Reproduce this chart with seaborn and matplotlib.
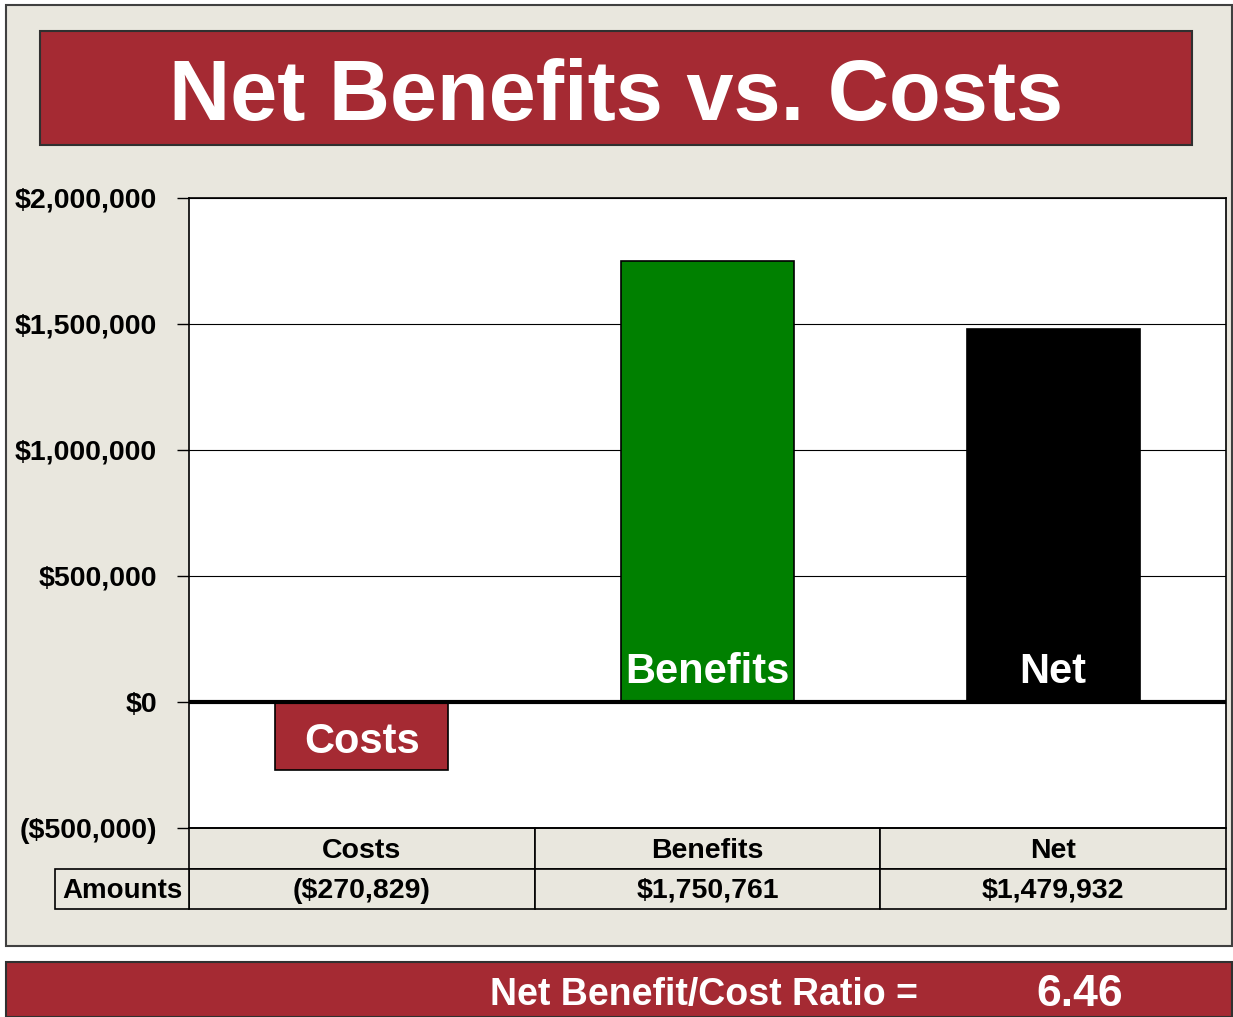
import matplotlib
matplotlib.use("Agg")
import matplotlib.pyplot as plt
import matplotlib.transforms as mtransforms
from matplotlib.patches import Rectangle
import seaborn as sns

# ---- data ----
categories = ["Costs", "Benefits", "Net"]
values = [-270829, 1750761, 1479932]
bar_colors = ["#A52A33", "#008000", "#000000"]
row_label = "Amounts"
y_ticks = [-500000, 0, 500000, 1000000, 1500000, 2000000]
title = "Net Benefits vs. Costs"
ratio_label = "Net Benefit/Cost Ratio ="


def money(v):
    s = "${:,.0f}".format(abs(v))
    return "({})".format(s) if v < 0 else s


ratio = values[1] / abs(values[0])

sns.set_style("white")
plt.rcParams["font.family"] = ["Liberation Sans", "DejaVu Sans"]
plt.rcParams["font.weight"] = "bold"
plt.rcParams["text.color"] = "black"

W, H = 1233, 1017
RED = "#A52A33"
BEIGE = "#E9E7DE"

fig = plt.figure(figsize=(W / 100, H / 100), dpi=100)
fig.patch.set_facecolor("white")

# outer beige panel
fig.patches.append(Rectangle((6 / W, 1 - 946 / H), 1226 / W, 941 / H,
                             transform=fig.transFigure, fc=BEIGE, ec="#404040",
                             lw=1.5, zorder=-2))
# title box
fig.patches.append(Rectangle((40 / W, 1 - 145 / H), 1152 / W, 114 / H,
                             transform=fig.transFigure, fc=RED, ec="#303030",
                             lw=1.5, zorder=-1))
fig.text(616 / W, 1 - 120 / H, title, color="white", fontsize=61,
         fontweight="bold", ha="center", va="baseline", zorder=3)
# bottom ratio bar
fig.patches.append(Rectangle((6 / W, 0), 1226 / W, 55 / H,
                             transform=fig.transFigure, fc=RED, ec="#303030",
                             lw=1.5, zorder=-1))
fig.text(918 / W, 1 - 1005 / H, ratio_label, color="white", fontsize=27,
         fontweight="bold", ha="right", va="baseline", zorder=3)
fig.text(1080 / W, 1 - 1006 / H, "{:.2f}".format(ratio), color="white",
         fontsize=32, fontweight="bold", ha="center", va="baseline", zorder=3)

# main axes
ax = fig.add_axes([189 / W, 1 - 828 / H, 1037 / W, 630 / H])
ax.set_zorder(2)
ax.set_facecolor("white")
sns.barplot(x=categories, y=values, hue=categories, palette=bar_colors,
            width=0.5, edgecolor="black", linewidth=1.2, saturation=1,
            legend=False, ax=ax, zorder=3)
ax.set_xlim(-0.5, 2.5)
ax.set_ylim(y_ticks[0], y_ticks[-1])
ax.set_yticks(y_ticks)
ax.set_yticklabels([money(v) for v in y_ticks], fontsize=20.5,
                   fontweight="bold", color="black")
ax.set_xticks([])
ax.set_xlabel("")
ax.set_ylabel("")
ax.yaxis.grid(True, color="black", lw=0.8)
ax.set_axisbelow(True)
ax.axhline(0, color="black", lw=3, zorder=4)
ax.tick_params(axis="y", left=True, length=9, width=1, direction="out",
               pad=14, colors="black")
for sp in ax.spines.values():
    sp.set_visible(True)
    sp.set_color("black")
    sp.set_linewidth(1.2)

# bar labels
for i, (c, v) in enumerate(zip(categories, values)):
    if v < 0:
        ax.annotate(c, (i, 0), xytext=(0, -37), textcoords="offset points",
                    ha="center", va="baseline", color="white", fontsize=30,
                    fontweight="bold", zorder=5)
    else:
        ax.annotate(c, (i, 0), xytext=(0, 13.5), textcoords="offset points",
                    ha="center", va="baseline", color="white", fontsize=30,
                    fontweight="bold", zorder=5)

# data table under the axes
trans = mtransforms.blended_transform_factory(ax.transData, ax.transAxes)
h1 = 41 / 630
h2 = 40 / 630
ty1 = -30 / 630   # baseline of header text
ty2 = -70 / 630   # baseline of amount text
for i, (c, v) in enumerate(zip(categories, values)):
    ax.add_patch(Rectangle((i - 0.5, -h1), 1, h1, transform=trans, fc=BEIGE,
                           ec="black", lw=1.2, clip_on=False))
    ax.add_patch(Rectangle((i - 0.5, -h1 - h2), 1, h2, transform=trans,
                           fc=BEIGE, ec="black", lw=1.2, clip_on=False))
    ax.text(i, ty1, c, transform=trans, ha="center", va="baseline",
            fontsize=20.5, fontweight="bold", color="black", clip_on=False)
    ax.text(i, ty2, money(v), transform=trans, ha="center",
            va="baseline", fontsize=20.5, fontweight="bold", color="black",
            clip_on=False)
lw_frac = 134 / 1037
ax.add_patch(Rectangle((-lw_frac, -h1 - h2), lw_frac, h2,
                       transform=ax.transAxes, fc=BEIGE, ec="black", lw=1.2,
                       clip_on=False))
ax.text(-lw_frac / 2, ty2, row_label, transform=ax.transAxes,
        ha="center", va="baseline", fontsize=20, fontweight="bold",
        color="black", clip_on=False)

fig.savefig("out.png", dpi=100)
